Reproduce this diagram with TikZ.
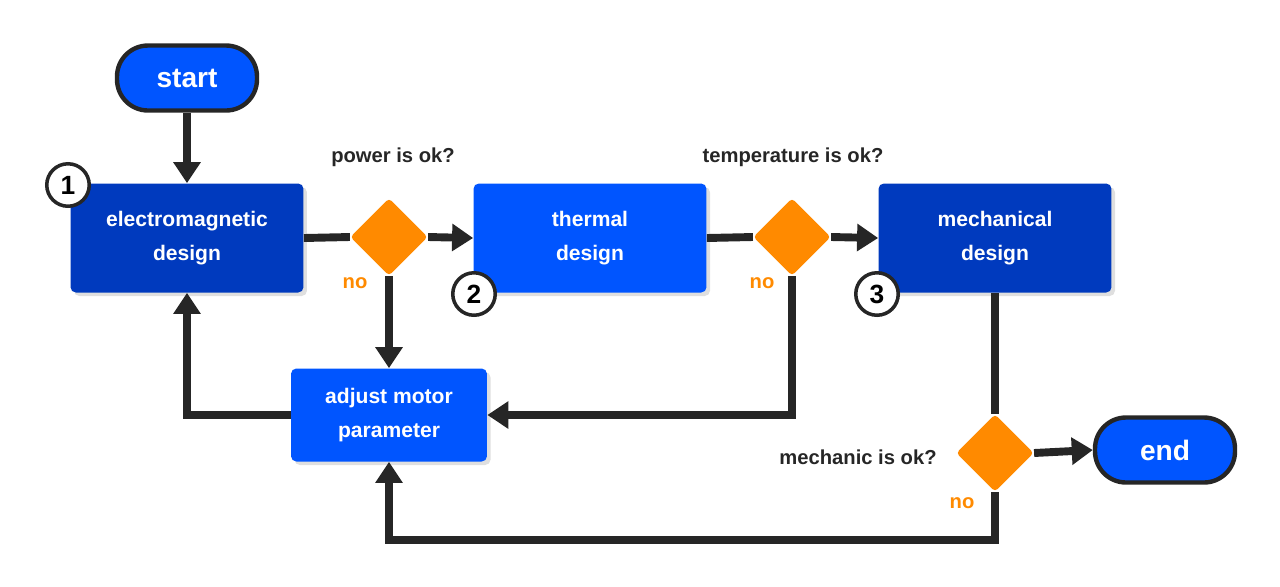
\documentclass[tikz,border=0pt]{standalone}
\usepackage{fontspec}
\setmainfont{Liberation Sans}
\usetikzlibrary{shapes.geometric,arrows.meta,positioning,calc,shadows}
\definecolor{flowblue}{RGB}{0,85,255}
\definecolor{flowdark}{RGB}{0,58,190}
\definecolor{flowgray}{RGB}{38,38,38}
\definecolor{floworange}{RGB}{255,138,0}

\tikzset{
  pill/.style={draw=flowgray, line width=2.5pt, fill=flowblue, rounded corners=0.62cm,
    minimum width=2.8cm, minimum height=1.3cm, text=white, font=\bfseries\fontsize{16}{18}\selectfont},
  stage/.style={rectangle, rounded corners=3pt, minimum width=4.66cm, minimum height=2.18cm,
    text=white, align=center, font=\bfseries\fontsize{12}{19}\selectfont,
    drop shadow={opacity=0.25, shadow xshift=2pt, shadow yshift=-2pt}},
  check/.style={diamond, fill=floworange, minimum size=1.55cm, inner sep=0pt, rounded corners=2pt},
  num/.style={circle, draw=flowgray, line width=2pt, fill=white, minimum size=0.85cm, inner sep=0pt,
    font=\bfseries\fontsize{15}{15}\selectfont},
  ask/.style={font=\bfseries\fontsize{11.5}{13}\selectfont, text=flowgray},
  nolabel/.style={font=\bfseries\fontsize{11.5}{13}\selectfont, text=floworange},
  flow/.style={draw=flowgray, line width=4.5pt},
  flowarrow/.style={flow, -{Triangle[length=12pt,width=15pt]}}
}

\begin{document}
\begin{tikzpicture}[x=0.02cm, y=-0.02cm]
\useasboundingbox (0,0) rectangle (1280,586);

% terminals
\node[pill] (start) at (187,78) {start};
\node[pill] (end) at (1165,450) {end};

% design stages
\node[stage, fill=flowdark] (emdesign) at (187,238) {electromagnetic\\design};
\node[stage, fill=flowblue] (thermal) at (590,238) {thermal\\design};
\node[stage, fill=flowdark] (mech) at (995,238) {mechanical\\design};
\node[stage, fill=flowblue, minimum width=3.92cm, minimum height=1.86cm] (adjust) at (389,415) {adjust motor\\parameter};

% checks
\node[check] (powerok) at (389,237) {};
\node[check] (tempok) at (792,237) {};
\node[check] (mechok) at (995,453) {};

% questions
\node[ask] (powerq) at (393,157) {power is ok?};
\node[ask] (tempq) at (793,157) {temperature is ok?};
\node[ask] (mechq) at (858,457) {mechanic is ok?};
\node[nolabel] (no1) at (355,283) {no};
\node[nolabel] (no2) at (762,283) {no};
\node[nolabel] (no3) at (962,503) {no};

% connections
\draw[flowarrow] (start) -- (emdesign);
\draw[flow] (emdesign.east) -- (powerok.west);
\draw[flowarrow] (powerok.east) -- (thermal.west);
\draw[flowarrow] (powerok.south) -- (adjust.north);
\draw[flow] (thermal.east) -- (tempok.west);
\draw[flowarrow] (tempok.east) -- (mech.west);
\draw[flowarrow] (tempok.south) |- (adjust.east);
\draw[flow] (mech.south) -- (mechok.north);
\draw[flowarrow] (mechok.east) -- (end.west);
\draw[flowarrow] (mechok.south) -- (mechok.south |- 0,540) -- (adjust.south |- 0,540) -- (adjust.south);
\draw[flowarrow] (adjust.west) -| (emdesign.south);

% stage numbers
\node[num] (n1) at (68,185) {1};
\node[num] (n2) at (474,294) {2};
\node[num] (n3) at (877,294) {3};
\end{tikzpicture}
\end{document}
